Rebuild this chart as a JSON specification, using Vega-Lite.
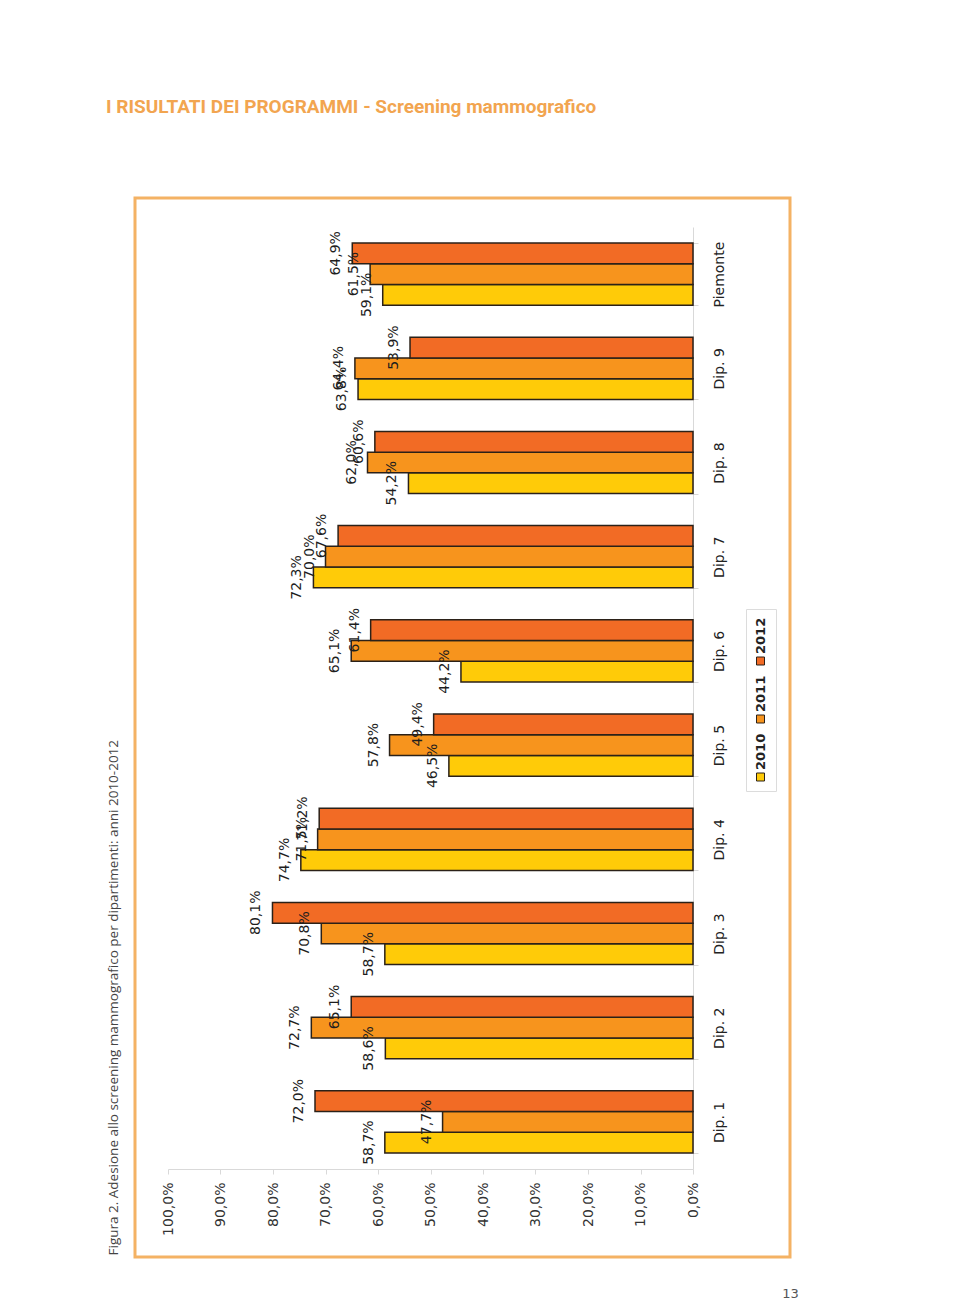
{
  "$schema": "https://vega.github.io/schema/vega-lite/v6.json",
  "autosize": {"type": "none"},
  "padding": {"left": 135, "top": 198, "right": 170, "bottom": 44},
  "width": 655,
  "height": 1059,
  "background": "white",
  "title": {
    "text": "I RISULTATI DEI PROGRAMMI - Screening mammografico",
    "anchor": "start",
    "frame": "group",
    "orient": "top",
    "offset": 66,
    "baseline": "alphabetic",
    "dx": -29,
    "font": "Roboto, sans-serif",
    "fontSize": 19,
    "fontWeight": "bold",
    "color": "#f2a550"
  },
  "data": {
    "values": [
      {"dipartimento": "Dip. 1", "anno": "2010", "adesione": 0.587},
      {"dipartimento": "Dip. 1", "anno": "2011", "adesione": 0.477},
      {"dipartimento": "Dip. 1", "anno": "2012", "adesione": 0.720},
      {"dipartimento": "Dip. 2", "anno": "2010", "adesione": 0.586},
      {"dipartimento": "Dip. 2", "anno": "2011", "adesione": 0.727},
      {"dipartimento": "Dip. 2", "anno": "2012", "adesione": 0.651},
      {"dipartimento": "Dip. 3", "anno": "2010", "adesione": 0.587},
      {"dipartimento": "Dip. 3", "anno": "2011", "adesione": 0.708},
      {"dipartimento": "Dip. 3", "anno": "2012", "adesione": 0.801},
      {"dipartimento": "Dip. 4", "anno": "2010", "adesione": 0.747},
      {"dipartimento": "Dip. 4", "anno": "2011", "adesione": 0.715},
      {"dipartimento": "Dip. 4", "anno": "2012", "adesione": 0.712},
      {"dipartimento": "Dip. 5", "anno": "2010", "adesione": 0.465},
      {"dipartimento": "Dip. 5", "anno": "2011", "adesione": 0.578},
      {"dipartimento": "Dip. 5", "anno": "2012", "adesione": 0.494},
      {"dipartimento": "Dip. 6", "anno": "2010", "adesione": 0.442},
      {"dipartimento": "Dip. 6", "anno": "2011", "adesione": 0.651},
      {"dipartimento": "Dip. 6", "anno": "2012", "adesione": 0.614},
      {"dipartimento": "Dip. 7", "anno": "2010", "adesione": 0.723},
      {"dipartimento": "Dip. 7", "anno": "2011", "adesione": 0.700},
      {"dipartimento": "Dip. 7", "anno": "2012", "adesione": 0.676},
      {"dipartimento": "Dip. 8", "anno": "2010", "adesione": 0.542},
      {"dipartimento": "Dip. 8", "anno": "2011", "adesione": 0.620},
      {"dipartimento": "Dip. 8", "anno": "2012", "adesione": 0.606},
      {"dipartimento": "Dip. 9", "anno": "2010", "adesione": 0.638},
      {"dipartimento": "Dip. 9", "anno": "2011", "adesione": 0.644},
      {"dipartimento": "Dip. 9", "anno": "2012", "adesione": 0.539},
      {"dipartimento": "Piemonte", "anno": "2010", "adesione": 0.591},
      {"dipartimento": "Piemonte", "anno": "2011", "adesione": 0.615},
      {"dipartimento": "Piemonte", "anno": "2012", "adesione": 0.649}
    ]
  },
  "encoding": {
    "y": {
      "field": "dipartimento",
      "type": "nominal",
      "scale": {
        "domain": ["Piemonte", "Dip. 9", "Dip. 8", "Dip. 7", "Dip. 6", "Dip. 5", "Dip. 4", "Dip. 3", "Dip. 2", "Dip. 1"],
        "range": [29, 971],
        "paddingInner": 0.34,
        "paddingOuter": 0.17
      },
      "axis": {
        "orient": "right",
        "offset": -97,
        "labelAngle": -90,
        "labelAlign": "center",
        "labelBaseline": "top",
        "labelPadding": 14,
        "tickBand": "extent",
        "tickSize": 5,
        "tickColor": "#d9d9d9",
        "domainColor": "#d9d9d9",
        "labelFont": "DejaVu Sans",
        "labelFontSize": 14,
        "labelColor": "#222222",
        "title": "13",
        "titleX": 97,
        "titleY": 1095,
        "titleAngle": 0,
        "titleAlign": "center",
        "titleBaseline": "middle",
        "titleFont": "DejaVu Sans",
        "titleFontSize": 13,
        "titleFontWeight": "normal",
        "titleColor": "#555555"
      }
    },
    "yOffset": {
      "field": "anno",
      "type": "nominal",
      "sort": ["2012", "2011", "2010"],
      "scale": {"paddingInner": 0, "paddingOuter": 0}
    },
    "x": {
      "field": "adesione",
      "type": "quantitative",
      "scale": {"domain": [0, 1], "range": [558, 33], "nice": false},
      "axis": {
        "values": [0, 0.1, 0.2, 0.3, 0.4, 0.5, 0.6, 0.7, 0.8, 0.9, 1],
        "format": ".1%",
        "labelAngle": -90,
        "labelFont": "DejaVu Sans",
        "labelFontSize": 14,
        "labelColor": "#333333",
        "labelPadding": 8,
        "labelFlush": false,
        "labelOverlap": false,
        "tickSize": 5,
        "tickColor": "#d9d9d9",
        "domainColor": "#d9d9d9",
        "grid": false,
        "offset": -88,
        "title": "Figura 2. Adesione allo screening mammografico per dipartimenti: anni 2010-2012",
        "titleX": -22,
        "titleY": 86,
        "titleAngle": -90,
        "titleAlign": "left",
        "titleBaseline": "middle",
        "titleFont": "Open Sans",
        "titleFontSize": 13.5,
        "titleFontWeight": "normal",
        "titleColor": "#444444"
      }
    }
  },
  "layer": [
    {
      "mark": {"type": "bar", "stroke": "#2b2118", "strokeWidth": 1.5},
      "encoding": {
        "color": {
          "field": "anno",
          "type": "nominal",
          "scale": {"domain": ["2010", "2011", "2012"], "range": ["#ffcb08", "#f7941d", "#f26b25"]},
          "legend": {
            "orient": "none",
            "legendX": 611,
            "legendY": 411,
            "direction": "vertical",
            "values": ["2012", "2011", "2010"],
            "title": null,
            "symbolType": "square",
            "symbolSize": 64,
            "symbolStrokeColor": "#2b2118",
            "symbolStrokeWidth": 1,
            "symbolOpacity": 1,
            "labelFont": "DejaVu Sans",
            "labelFontSize": 13,
            "labelFontWeight": "bold",
            "labelColor": "#222222",
            "labelAlign": "left",
            "labelBaseline": "middle",
            "labelOffset": -6.5,
            "rowPadding": 8,
            "padding": 8,
            "strokeColor": "#dcdcdc",
            "encoding": {
              "labels": {"angle": {"value": -90}, "y": {"value": 37}},
              "symbols": {"y": {"value": 44}}
            }
          }
        }
      }
    },
    {
      "mark": {"type": "text", "angle": -90, "align": "center", "baseline": "middle", "dy": -16, "font": "DejaVu Sans", "fontSize": 14, "color": "#1e1e1e"},
      "encoding": {
        "text": {"field": "adesione", "type": "quantitative", "format": ".1%"}
      }
    }
  ],
  "config": {
    "locale": {"number": {"decimal": ",", "thousands": ".", "grouping": [3], "currency": ["€", ""]}},
    "view": {"stroke": "#f4b264", "strokeWidth": 3}
  }
}
